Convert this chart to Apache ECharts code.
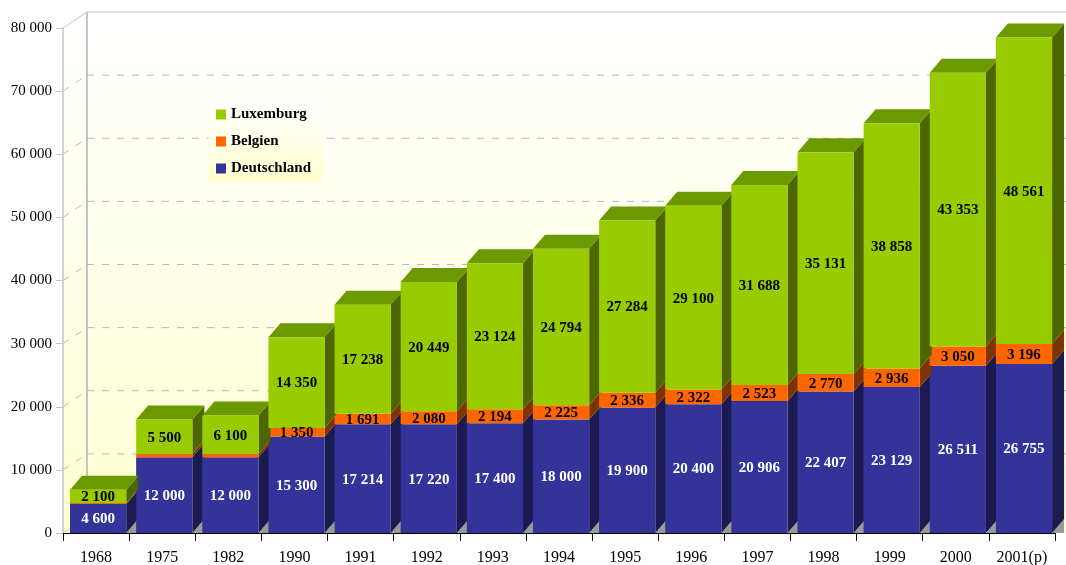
<!DOCTYPE html>
<html>
<head>
<meta charset="utf-8">
<script src="https://cdn.jsdelivr.net/npm/echarts@6/dist/echarts.min.js"></script>
<style>
html, body { margin: 0; padding: 0; background: #fff; }
#chart { width: 1066px; height: 565px; }
</style>
</head>
<body>
<div id="chart"></div>
<script>
var years = ["1968", "1975", "1982", "1990", "1991", "1992", "1993", "1994", "1995", "1996", "1997", "1998", "1999", "2000", "2001(p)"];
var deutschland = [4600, 12000, 12000, 15300, 17214, 17220, 17400, 18000, 19900, 20400, 20906, 22407, 23129, 26511, 26755];
var belgien = [150, 500, 500, 1350, 1691, 2080, 2194, 2225, 2336, 2322, 2523, 2770, 2936, 3050, 3196];
var luxemburg = [2100, 5500, 6100, 14350, 17238, 20449, 23124, 24794, 27284, 29100, 31688, 35131, 38858, 43353, 48561];
var yTicks = [0, 10000, 20000, 30000, 40000, 50000, 60000, 70000, 80000];

var FONT = '"Liberation Serif", "Times New Roman", serif';
// depth of the bars and of the walls (px)
var DX = 12, DY = -14;
var WX = 24, WY = -16;

function fmt(v) {
  return String(v).replace(/\B(?=(\d{3})+(?!\d))/g, " ");
}

var base1 = deutschland.slice();
var base2 = deutschland.map(function (v, i) { return v + belgien[i]; });
var zeros = deutschland.map(function () { return 0; });

function barSeries(name, values, bases, colors, isTop, labelColor, minLabel) {
  return {
    name: name,
    type: "custom",
    z: 3,
    itemStyle: { color: colors[0] },
    encode: { x: 0, y: [1, 2] },
    data: values.map(function (v, i) { return [i, bases[i], bases[i] + v, v]; }),
    renderItem: function (params, api) {
      var i = api.value(0);
      var p0 = api.coord([i, api.value(1)]);
      var p1 = api.coord([i, api.value(2)]);
      var band = api.size([1, 0])[0];
      var l = p0[0] - band / 2 + band * 0.106;
      var w = band * 0.85;
      var r = l + w;
      var y0 = p0[1], y1 = p1[1];
      var kids = [];
      if (api.value(1) === 0) {
        kids.push({ type: "polygon", shape: { points: [[r, y0], [r + DX, y0 + DY], [r + DX, y0]] }, style: { fill: "#999999" } });
      }
      kids.push({ type: "polygon", shape: { points: [[r, y1], [r + DX, y1 + DY], [r + DX, y0 + DY], [r, y0]] }, style: { fill: colors[1] } });
      if (isTop) {
        kids.push({ type: "polygon", shape: { points: [[l, y1], [l + DX, y1 + DY], [r + DX, y1 + DY], [r, y1]] }, style: { fill: colors[2] } });
      }
      kids.push({ type: "rect", shape: { x: l, y: y1, width: w, height: y0 - y1 }, style: { fill: colors[0] } });
      if (api.value(3) >= minLabel) {
        kids.push({
          type: "text", z2: 100,
          style: {
            text: fmt(api.value(3)), x: l + w / 2, y: (y0 + y1) / 2 + 1,
            align: "center", verticalAlign: "middle",
            fill: labelColor, fontFamily: FONT, fontWeight: "bold", fontSize: 15
          }
        });
      }
      return { type: "group", children: kids };
    }
  };
}

var wallSeries = {
  type: "custom",
  z: 1,
  silent: true,
  encode: { x: 0, y: 1 },
  data: yTicks.map(function (v) { return [0, v]; }),
  renderItem: function (params, api) {
    var cs = params.coordSys;
    var v = api.value(1);
    var y = api.coord([0, v])[1];
    var x0 = cs.x, x1 = cs.x + cs.width + WX;
    var kids = [];
    var dash = { stroke: "#b8b8b8", lineWidth: 1, lineDash: [7, 8] };
    var solid = { stroke: "#c4c4c4", lineWidth: 1 };
    if (params.dataIndex === 0) {
      var yTop = cs.y, yBot = cs.y + cs.height;
      kids.push({
        type: "polygon", z2: -10,
        shape: { points: [[x0, yBot], [x0, yTop], [x0 + WX, yTop + WY], [x1, yTop + WY], [x1, yBot]] },
        style: {
          fill: new echarts.graphic.LinearGradient(0, 0, 0, 1, [
            { offset: 0, color: "#ffffff" },
            { offset: 0.4, color: "#ffffee" },
            { offset: 1, color: "#ffffd0" }
          ])
        }
      });
      kids.push({ type: "line", shape: { x1: x0 + WX, y1: yTop + WY, x2: x0 + WX, y2: yBot + WY }, style: { stroke: "#c4c4c4", lineWidth: 2 } });
    }
    var top = v === yTicks[yTicks.length - 1];
    kids.push({ type: "line", shape: { x1: x0, y1: y, x2: x0 + WX, y2: y + WY }, style: (top || v === 0) ? solid : dash });
    if (v !== 0) {
      kids.push({ type: "line", shape: { x1: x0 + WX, y1: y + WY, x2: x1, y2: y + WY }, style: top ? solid : dash });
    }
    return { type: "group", children: kids };
  }
};

var chart = echarts.init(document.getElementById("chart"));
chart.setOption({
  animation: false,
  backgroundColor: "#ffffff",
  grid: { left: 63, right: 11, top: 28, bottom: 32, outerBoundsMode: "none" },
  legend: {
    orient: "vertical",
    left: 209,
    top: 101,
    data: ["Luxemburg", "Belgien", "Deutschland"],
    icon: "rect",
    itemWidth: 10,
    itemHeight: 10,
    itemGap: 12,
    padding: [6, 12, 6, 7],
    textStyle: { fontFamily: FONT, fontWeight: "bold", fontSize: 15, color: "#000" },
    backgroundColor: new echarts.graphic.LinearGradient(0, 0, 0, 1, [
      { offset: 0, color: "#ffffff" },
      { offset: 1, color: "#ffffd0" }
    ])
  },
  xAxis: {
    type: "category",
    data: years,
    z: 10,
    axisLine: { lineStyle: { color: "#000" } },
    axisTick: { show: true, length: 8, lineStyle: { color: "#000" } },
    axisLabel: { fontFamily: FONT, fontSize: 16, color: "#000", margin: 17 },
    splitLine: { show: false }
  },
  yAxis: {
    type: "value",
    min: 0,
    max: 80000,
    interval: 10000,
    z: 10,
    axisLine: { show: true, lineStyle: { color: "#c4c4c4", width: 1.5 } },
    axisTick: { show: true, length: 7, lineStyle: { color: "#c4c4c4" } },
    axisLabel: { fontFamily: FONT, fontSize: 15, color: "#000", margin: 11, formatter: fmt },
    splitLine: { show: false }
  },
  series: [
    wallSeries,
    barSeries("Deutschland", deutschland, zeros, ["#333399", "#1b1b52", "#28287a"], false, "#ffffff", 1000),
    barSeries("Belgien", belgien, base1, ["#ff6600", "#7f3300", "#b34700"], false, "#000000", 1000),
    barSeries("Luxemburg", luxemburg, base2, ["#99cc00", "#4d6600", "#6b9900"], true, "#000000", 1000)
  ]
});
</script>
</body>
</html>
